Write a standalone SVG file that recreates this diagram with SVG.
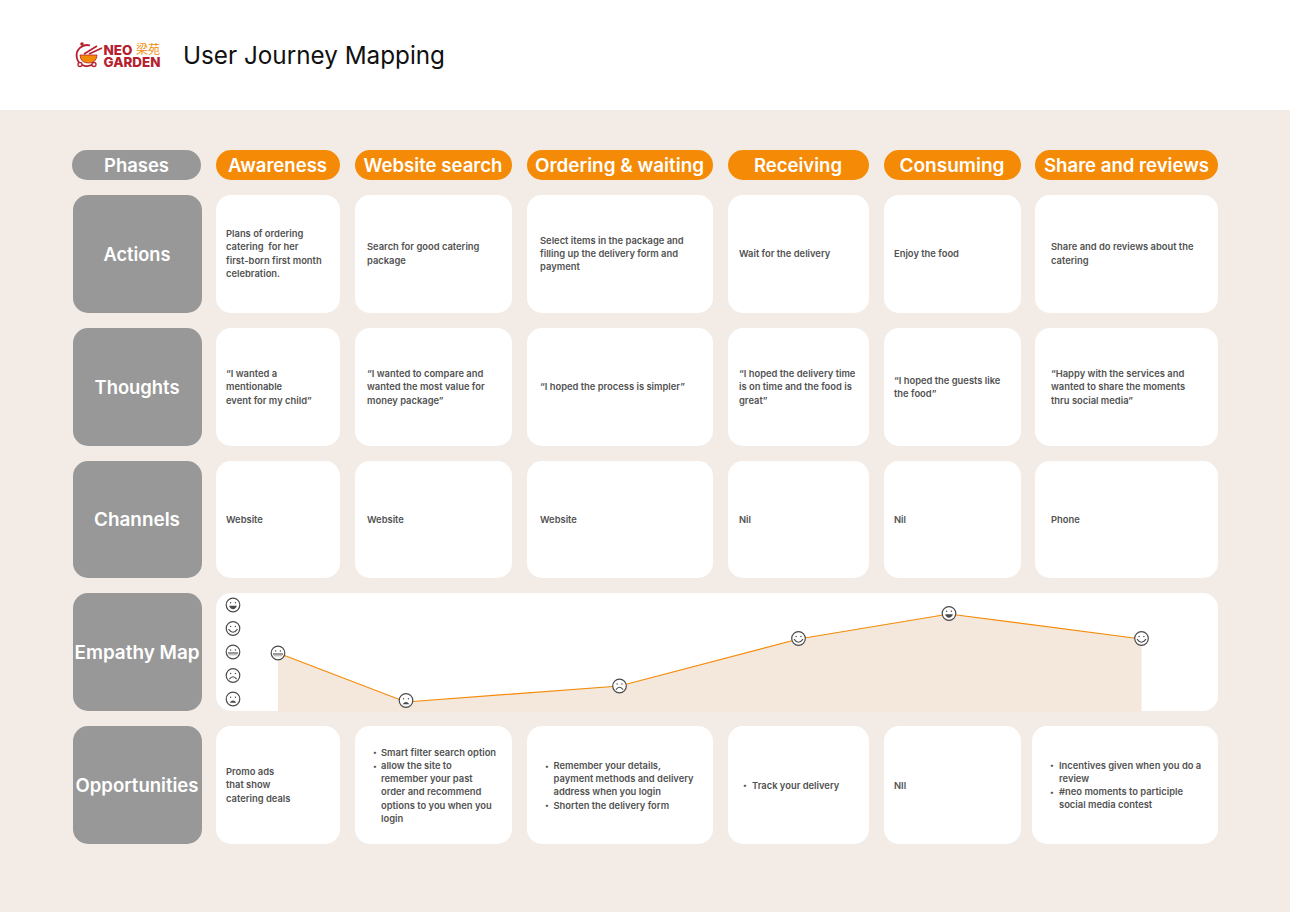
<svg xmlns="http://www.w3.org/2000/svg" width="1290" height="912" viewBox="0 0 1290 912">
<style>
text{font-family:"Inter","Noto Sans","Liberation Sans",sans-serif}
.c{fill:#fff}
.g{fill:#989898}
.o{fill:#f58a07}
.h{font-size:18.5px;font-weight:600;fill:#fff;text-anchor:middle}
.t{font-size:9.4px;font-weight:600;fill:#525252;white-space:pre}
.b{font-size:7.5px}
.f{fill:#fff;stroke:#4a4a4a;stroke-width:1.2}
.l{fill:none;stroke:#4a4a4a;stroke-width:1.1}
.d{fill:#4a4a4a}
</style>
<defs>
<g id="neutral"><circle class="f" r="6.8"/><circle class="d" cx="-2.4" cy="-2" r=".7"/><circle class="d" cx="2.4" cy="-2" r=".7"/><path class="l" d="M-5 1H5"/><path d="M-4.2 2.8H4.2" fill="none" stroke="#aaa" stroke-width="1"/></g>
<g id="sad"><circle class="f" r="6.8"/><circle class="d" cx="-2.4" cy="-2" r=".7"/><circle class="d" cx="2.4" cy="-2" r=".7"/><path class="l" d="M-3.6 3.6Q0 -1.2 3.6 3.6"/></g>
<g id="vsad"><circle class="f" r="6.8"/><circle class="d" cx="-2.4" cy="-1.8" r=".7"/><circle class="d" cx="2.4" cy="-1.8" r=".7"/><path class="d" d="M-3.4 3.8Q0 -0.6 3.4 3.8Z"/></g>
<g id="smile"><circle class="f" r="6.8"/><circle class="d" cx="-2.4" cy="-2" r=".7"/><circle class="d" cx="2.4" cy="-2" r=".7"/><path class="l" d="M-4.5 .6Q0 6.8 4.5 .6"/></g>
<g id="grin"><circle class="f" r="6.8"/><circle class="d" cx="-2.4" cy="-2.2" r=".7"/><circle class="d" cx="2.4" cy="-2.2" r=".7"/><path class="d" d="M-3.9 .8H3.9Q2.8 4.2 0 4.2Q-2.8 4.2 -3.9 .8Z"/></g>
</defs>
<rect width="1290" height="912" fill="#fff"/>
<rect y="110" width="1290" height="802" fill="#f3ece6"/>

<g id="logo">
<path d="M90 45.500A10.500 10.500 0 1 0 94 63.500" fill="none" stroke="#b5202e" stroke-width="1.8"/>
<circle cx="82" cy="44" r="1.800" fill="#b5202e"/>
<path d="M80 55H97Q96.500 63 88.500 63Q80.500 63 80 55Z" fill="#f58a07" stroke="#b5202e" stroke-width=".8"/>
<path d="M84 54L97 46M89 54L102 48" stroke="#b5202e" stroke-width="1.600" fill="none"/>
<circle cx="80" cy="64.500" r="2" fill="#fff" stroke="#b5202e" stroke-width="1.300"/>
<circle cx="94" cy="64.500" r="2" fill="#fff" stroke="#b5202e" stroke-width="1.300"/>
<text font-weight="800" fill="#b5202e" font-size="13.500"><tspan x="103.500" y="54.500" textLength="29" lengthAdjust="spacingAndGlyphs">NEO</tspan><tspan x="136" y="53.500" font-size="12" font-weight="400" fill="#f58a07" style="font-family:'Noto Sans CJK SC',sans-serif">梁苑</tspan><tspan x="103.500" y="66.700" textLength="57" lengthAdjust="spacingAndGlyphs">GARDEN</tspan></text>
</g>
<text id="title" x="183" y="64" font-size="24.500" font-weight="400" fill="#111" textLength="262" lengthAdjust="spacingAndGlyphs">User Journey Mapping</text>

<g id="phases"><rect x="72" y="150" width="129" height="30" rx="15" class="g"/><text class="h" x="136.500" y="171.500" textLength="65" lengthAdjust="spacingAndGlyphs">Phases</text></g>
<g id="ph-awareness"><rect x="216" y="150" width="124" height="30" rx="15" class="o"/><text class="h" x="277.500" y="171.500" textLength="99" lengthAdjust="spacingAndGlyphs">Awareness</text></g>
<g id="ph-search"><rect x="355" y="150" width="157" height="30" rx="15" class="o"/><text class="h" x="433" y="171.500" textLength="139" lengthAdjust="spacingAndGlyphs">Website search</text></g>
<g id="ph-ordering"><rect x="527" y="150" width="186" height="30" rx="15" class="o"/><text class="h" x="619.500" y="171.500" textLength="169" lengthAdjust="spacingAndGlyphs">Ordering &amp; waiting</text></g>
<g id="ph-receiving"><rect x="728" y="150" width="141" height="30" rx="15" class="o"/><text class="h" x="798" y="171.500" textLength="88" lengthAdjust="spacingAndGlyphs">Receiving</text></g>
<g id="ph-consuming"><rect x="884" y="150" width="137" height="30" rx="15" class="o"/><text class="h" x="952" y="171.500" textLength="105" lengthAdjust="spacingAndGlyphs">Consuming</text></g>
<g id="ph-share"><rect x="1035" y="150" width="183" height="30" rx="15" class="o"/><text class="h" x="1126.500" y="171.500" textLength="165" lengthAdjust="spacingAndGlyphs">Share and reviews</text></g>

<g id="row-actions">
<rect x="73" y="195" width="129" height="118" rx="15" class="g"/><text class="h" x="137" y="260.500" textLength="67" lengthAdjust="spacingAndGlyphs">Actions</text>
<rect x="216" y="195" width="124" height="118" rx="15" class="c"/><text class="t"><tspan x="226" y="237">Plans of ordering</tspan><tspan x="226" y="250">catering  for her</tspan><tspan x="226" y="263.500">first-born first month</tspan><tspan x="226" y="276.500">celebration.</tspan></text>
<rect x="355" y="195" width="157" height="118" rx="15" class="c"/><text class="t"><tspan x="367" y="250">Search for good catering</tspan><tspan x="367" y="263.500">package</tspan></text>
<rect x="527" y="195" width="186" height="118" rx="15" class="c"/><text class="t"><tspan x="540" y="243.500">Select items in the package and</tspan><tspan x="540" y="257">filling up the delivery form and</tspan><tspan x="540" y="270">payment</tspan></text>
<rect x="728" y="195" width="141" height="118" rx="15" class="c"/><text class="t" x="739" y="257">Wait for the delivery</text>
<rect x="884" y="195" width="137" height="118" rx="15" class="c"/><text class="t" x="894" y="257">Enjoy the food</text>
<rect x="1035" y="195" width="183" height="118" rx="15" class="c"/><text class="t"><tspan x="1051" y="250">Share and do reviews about the</tspan><tspan x="1051" y="263.500">catering</tspan></text>
</g>

<g id="row-thoughts">
<rect x="73" y="328" width="129" height="118" rx="15" class="g"/><text class="h" x="137" y="393.500" textLength="85" lengthAdjust="spacingAndGlyphs">Thoughts</text>
<rect x="216" y="328" width="124" height="118" rx="15" class="c"/><text class="t"><tspan x="226" y="377">“I wanted a</tspan><tspan x="226" y="390">mentionable</tspan><tspan x="226" y="403.500">event for my child”</tspan></text>
<rect x="355" y="328" width="157" height="118" rx="15" class="c"/><text class="t"><tspan x="367" y="377">“I wanted to compare and</tspan><tspan x="367" y="390">wanted the most value for</tspan><tspan x="367" y="403.500">money package”</tspan></text>
<rect x="527" y="328" width="186" height="118" rx="15" class="c"/><text class="t" x="540" y="390">“I hoped the process is simpler”</text>
<rect x="728" y="328" width="141" height="118" rx="15" class="c"/><text class="t"><tspan x="739" y="377">“I hoped the delivery time</tspan><tspan x="739" y="390">is on time and the food is</tspan><tspan x="739" y="403.500">great”</tspan></text>
<rect x="884" y="328" width="137" height="118" rx="15" class="c"/><text class="t"><tspan x="894" y="383.500">“I hoped the guests like</tspan><tspan x="894" y="397">the food”</tspan></text>
<rect x="1035" y="328" width="183" height="118" rx="15" class="c"/><text class="t"><tspan x="1051" y="377">“Happy with the services and</tspan><tspan x="1051" y="390">wanted to share the moments</tspan><tspan x="1051" y="403.500">thru social media”</tspan></text>
</g>

<g id="row-channels">
<rect x="73" y="461" width="129" height="117" rx="15" class="g"/><text class="h" x="137" y="525.500" textLength="86" lengthAdjust="spacingAndGlyphs">Channels</text>
<rect x="216" y="461" width="124" height="117" rx="15" class="c"/><text class="t" x="226" y="522.500">Website</text>
<rect x="355" y="461" width="157" height="117" rx="15" class="c"/><text class="t" x="367" y="522.500">Website</text>
<rect x="527" y="461" width="186" height="117" rx="15" class="c"/><text class="t" x="540" y="522.500">Website</text>
<rect x="728" y="461" width="141" height="117" rx="15" class="c"/><text class="t" x="739" y="522.500">Nil</text>
<rect x="884" y="461" width="137" height="117" rx="15" class="c"/><text class="t" x="894" y="522.500">Nil</text>
<rect x="1035" y="461" width="183" height="117" rx="15" class="c"/><text class="t" x="1051" y="522.500">Phone</text>
</g>

<g id="row-empathy">
<rect x="73" y="593" width="129" height="118" rx="15" class="g"/><text class="h" x="137" y="658.500" textLength="125" lengthAdjust="spacingAndGlyphs">Empathy Map</text>
<rect x="216" y="593" width="1002" height="118" rx="15" class="c"/>
<path d="M278 653L406 702L619.500 686L798.500 639L949 614L1141.500 639V712H278Z" fill="#f4e8dc"/>
<use href="#grin" x="233" y="605"/>
<use href="#smile" x="233" y="628.500"/>
<use href="#neutral" x="233" y="652"/>
<use href="#sad" x="233" y="675.500"/>
<use href="#vsad" x="233" y="699"/>
</g>
<g id="connectors"><path d="M278 653L406 702L619.500 686L798.500 639L949 614L1141.500 639" fill="none" stroke="#f58a07" stroke-width="1.200"/></g>
<g id="points">
<use href="#neutral" x="278" y="653"/>
<use href="#vsad" x="406" y="700.500"/>
<use href="#sad" x="619.500" y="686"/>
<use href="#smile" x="798.500" y="638.500"/>
<use href="#grin" x="949" y="613.500"/>
<use href="#smile" x="1141.500" y="638.500"/>
</g>

<g id="row-opportunities">
<rect x="73" y="726" width="129" height="118" rx="15" class="g"/><text class="h" x="137" y="791.500" textLength="123" lengthAdjust="spacingAndGlyphs">Opportunities</text>
<rect x="216" y="726" width="124" height="118" rx="15" class="c"/><text class="t"><tspan x="226" y="775">Promo ads</tspan><tspan x="226" y="788">that show</tspan><tspan x="226" y="801.500">catering deals</tspan></text>
<rect x="355" y="726" width="157" height="118" rx="15" class="c"/><text class="t"><tspan class="b" x="373" y="755">•</tspan><tspan x="381" y="755.500">Smart filter search option</tspan><tspan class="b" x="373" y="768.500">•</tspan><tspan x="381" y="769">allow the site to</tspan><tspan x="381" y="782">remember your past</tspan><tspan x="381" y="795">order and recommend</tspan><tspan x="381" y="808.500">options to you when you</tspan><tspan x="381" y="821.500">login</tspan></text>
<rect x="527" y="726" width="186" height="118" rx="15" class="c"/><text class="t"><tspan class="b" x="545" y="768.500">•</tspan><tspan x="553.500" y="769">Remember your details,</tspan><tspan x="553.500" y="782">payment methods and delivery</tspan><tspan x="553.500" y="795">address when you login</tspan><tspan class="b" x="545" y="808">•</tspan><tspan x="553.500" y="808.500">Shorten the delivery form</tspan></text>
<rect x="728" y="726" width="141" height="118" rx="15" class="c"/><text class="t"><tspan class="b" x="743" y="788">•</tspan><tspan x="752" y="788.500">Track your delivery</tspan></text>
<rect x="884" y="726" width="137" height="118" rx="15" class="c"/><text class="t" x="894" y="788.500">NIl</text>
<rect x="1032" y="726" width="186" height="118" rx="15" class="c"/><text class="t"><tspan class="b" x="1050" y="768">•</tspan><tspan x="1059" y="768.500">Incentives given when you do a</tspan><tspan x="1059" y="781.500">review</tspan><tspan class="b" x="1050" y="795">•</tspan><tspan x="1059" y="795">#neo moments to participle</tspan><tspan x="1059" y="808">social media contest</tspan></text>
</g>
</svg>
